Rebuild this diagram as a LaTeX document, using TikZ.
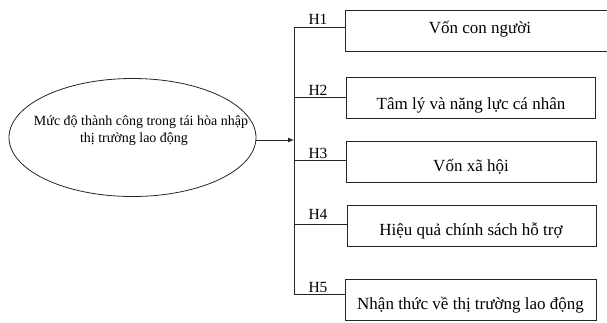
\documentclass[tikz,border=0pt]{standalone}
\usepackage{fontspec}
\setmainfont{Liberation Serif}
\usetikzlibrary{arrows.meta,shapes.geometric}
\begin{document}
\begin{tikzpicture}[x=1pt,y=-1pt,
  ln/.style={draw=black!85,line width=0.8pt},
  fbox/.style={ln,rectangle,inner sep=0pt},
  ftext/.style={anchor=base,inner sep=0pt,font=\fontsize{17}{20}\selectfont},
  etext/.style={anchor=base,inner sep=0pt,font=\fontsize{14}{17}\selectfont},
  hl/.style={anchor=base,inner sep=0pt,font=\fontsize{15.5}{18}\selectfont}]
\useasboundingbox (0,0) rectangle (607,322);
\node[ln,ellipse,minimum width=247pt,minimum height=118pt,inner sep=0pt] (e) at (132.5,137.5) {};
\node[etext] (e1) at (141,125) {Mức độ thành công trong tái hòa nhập};
\node[etext] (e2) at (134,142) {thị trường lao động};
\node[fbox,minimum width=262pt,minimum height=41pt] (b1) at (476,30.5) {};
\node[fbox,minimum width=249pt,minimum height=41pt] (b2) at (470.5,97.5) {};
\node[fbox,minimum width=250pt,minimum height=41pt] (b3) at (471,161.5) {};
\node[fbox,minimum width=249pt,minimum height=41pt] (b4) at (471.5,225.5) {};
\node[fbox,minimum width=251pt,minimum height=41pt] (b5) at (471,299.5) {};
\node[ftext] (t1) at (480,33) {Vốn con người};
\node[ftext] (t2) at (471,109) {Tâm lý và năng lực cá nhân};
\node[ftext] (t3) at (471,171) {Vốn xã hội};
\node[ftext] (t4) at (471,235) {Hiệu quả chính sách hỗ trợ};
\node[ftext] (t5) at (470.5,309) {Nhận thức về thị trường lao động};
\coordinate (v1) at (294,27);
\coordinate (v2) at (294,97);
\coordinate (v3) at (294,160);
\coordinate (v4) at (294,224);
\coordinate (v5) at (294,294);
\coordinate (t) at (294,140);
\draw[ln] (v1) -- (v5);
\draw[ln] (v1) -- (v1 -| b1.west);
\draw[ln] (v2) -- (v2 -| b2.west);
\draw[ln] (v3) -- (v3 -| b3.west);
\draw[ln] (v4) -- (v4 -| b4.west);
\draw[ln] (v5) -- (v5 -| b5.west);
\draw[ln,-{Latex[length=6pt,width=5pt]}] (t -| e.east) -- (t);
\node[hl] (h1) at (318,24.5) {H1};
\node[hl] (h2) at (318,95.5) {H2};
\node[hl] (h3) at (318,158.5) {H3};
\node[hl] (h4) at (318,219) {H4};
\node[hl] (h5) at (318,292.5) {H5};
\end{tikzpicture}
\end{document}
